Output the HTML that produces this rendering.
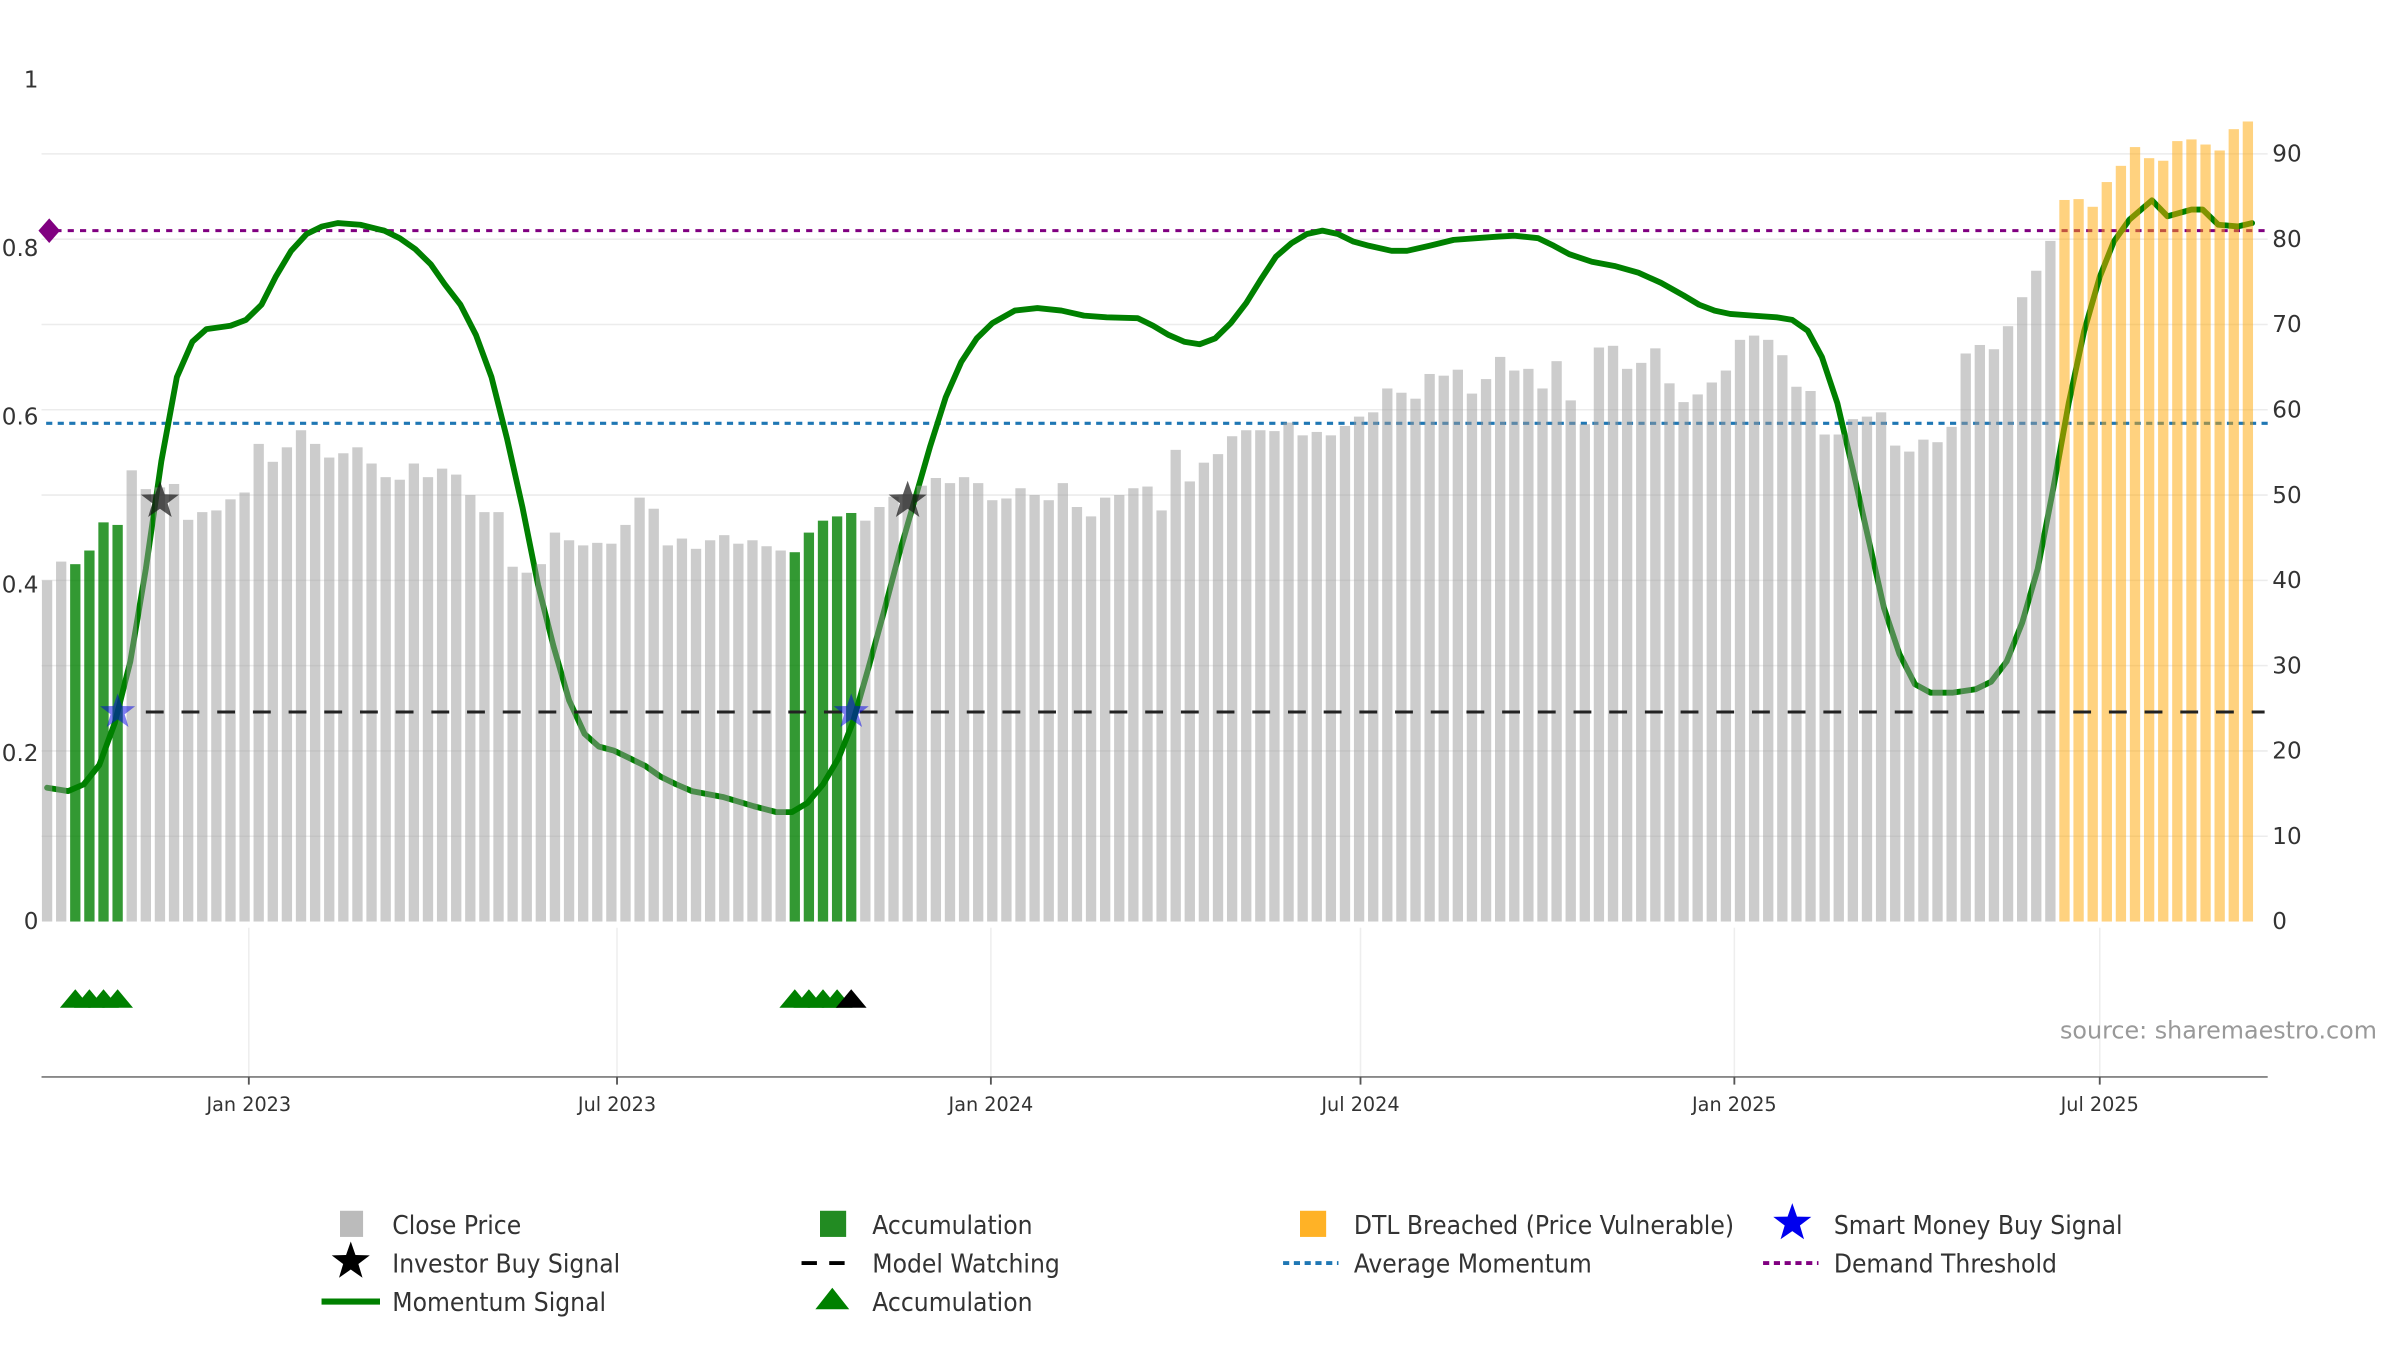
<!DOCTYPE html>
<html><head><meta charset="utf-8"><title>Momentum chart</title>
<style>
html,body{margin:0;padding:0;background:#fff;}
svg{display:block;}
text{font-family:"DejaVu Sans","Liberation Sans",sans-serif;}
.leg{font-family:"DejaVu Sans Condensed","DejaVu Sans","Liberation Sans",sans-serif;font-size:17px;fill:#333;}
</style></head>
<body>
<svg id="chart" width="2400" height="1350" viewBox="0 0 1560 877.5" xmlns="http://www.w3.org/2000/svg">
<g id="grid"></g>
<g id="refl"></g>
<g id="mom"></g>
<g id="bars"></g>
<g id="marks"></g>
<g id="axes"></g>
<text x="1545" y="675" text-anchor="end" font-size="15.5" fill="#999">source: sharemaestro.com</text>
<g id="legend">
  <g><rect x="221" y="787" width="15" height="17" fill="#bbb"/><text class="leg" x="255" y="802">Close Price</text></g>
  <g><rect x="533" y="787" width="17" height="17" fill="#228b22"/><text class="leg" x="567" y="802">Accumulation</text></g>
  <g><rect x="845" y="787" width="17" height="17" fill="#ffa500" opacity="0.85"/><text class="leg" x="880" y="802">DTL Breached (Price Vulnerable)</text></g>
  <g><polygon id="lgstar1" fill="#0000ee"/><text class="leg" x="1192" y="802">Smart Money Buy Signal</text></g>
  <g><polygon id="lgstar2" fill="#000"/><text class="leg" x="255" y="827">Investor Buy Signal</text></g>
  <g><line x1="521" y1="821" x2="557" y2="821" stroke="#000" stroke-width="2.5" stroke-dasharray="10,8"/><text class="leg" x="567" y="827">Model Watching</text></g>
  <g><line x1="834" y1="821" x2="870" y2="821" stroke="#1f77b4" stroke-width="2.5" stroke-dasharray="4,3"/><text class="leg" x="880" y="827">Average Momentum</text></g>
  <g><line x1="1146" y1="821" x2="1182" y2="821" stroke="#800080" stroke-width="2.5" stroke-dasharray="4,3"/><text class="leg" x="1192" y="827">Demand Threshold</text></g>
  <g><line x1="209" y1="846" x2="247" y2="846" stroke="#008000" stroke-width="4"/><text class="leg" x="255" y="852">Momentum Signal</text></g>
  <g><polygon points="530,851 541,837 552,851" fill="#008000"/><text class="leg" x="567" y="852">Accumulation</text></g>
</g>
</svg>
<script>
const prices = [40.0,42.2,41.9,43.5,46.8,46.5,
52.9,50.7,50.9,51.3,47.1,48.0,48.2,49.5,50.3,56.0,53.9,55.6,57.6,56.0,54.4,54.9,55.6,53.7,52.1,51.8,53.7,52.1,53.1,52.4,50.0,48.0,48.0,41.6,40.9,41.9,45.6,44.7,44.1,44.4,44.3,46.5,49.7,48.4,44.1,44.9,43.7,44.7,45.3,44.3,44.7,44.0,43.5,
43.3,45.6,47.0,47.5,47.9,
47.0,48.6,49.8,50.1,51.1,52.0,51.4,52.1,51.4,49.4,49.6,50.8,50.0,49.4,51.4,48.6,47.5,49.7,50.0,50.8,51.0,48.2,55.3,51.6,53.8,54.8,56.9,57.6,57.6,57.5,58.5,57.0,57.4,
57.0,
58.1,59.2,59.7,62.5,62.0,61.3,64.2,64.0,64.7,61.9,63.6,66.2,64.6,64.8,62.5,65.7,61.1,58.3,67.3,67.5,64.8,65.5,67.2,63.1,60.9,61.8,63.2,64.6,68.2,68.7,68.2,66.4,62.7,62.2,57.1,57.1,58.9,59.2,
59.7,55.8,55.1,56.5,56.2,58.0,66.6,67.6,67.1,69.8,73.2,76.3,79.8,
84.6,84.7,83.8,86.7,88.6,90.8,89.5,89.2,91.5,91.7,91.1,90.4,92.9,93.8];
const accumBars = [2,3,4,5,53,54,55,56,57];
const dtlStart = 143;
const momWeek = [0,1.5,2.6,3.7,4.8,5.9,7.0,8.1,9.2,10.3,11.3,13.0,14.1,15.2,16.2,17.3,18.4,19.5,20.6,22.2,23.9,25.0,26.1,27.2,28.2,29.3,30.4,31.5,32.6,33.7,34.8,35.9,37.0,38.1,39.1,40.2,41.3,42.4,43.5,44.6,45.7,47.9,50.1,51.7,52.8,53.9,55.0,56.1,57.1,58.2,59.3,60.4,61.5,62.6,63.7,64.8,65.9,67.0,68.6,70.2,71.9,73.5,75.1,77.3,78.4,79.5,80.6,81.7,82.8,83.9,85.0,86.0,87.1,88.2,89.3,90.4,91.5,92.6,93.7,95.3,96.4,98.0,99.7,101.3,102.9,104.0,105.7,106.8,107.9,109.5,111.1,112.8,114.4,116.0,117.1,118.2,119.3,120.9,122.6,123.7,124.8,125.8,126.9,128.0,129.1,130.2,131.3,132.4,133.5,135.1,136.7,137.8,138.9,140.0,141.1,142.2,143.3,144.4,145.5,146.5,147.6,149.2,150.3,152.0,152.8,153.9,155.3,156.3];
const momVal = [.159,.155,.163,.186,.236,.309,.419,.547,.647,.689,.704,.708,.715,.733,.766,.797,.817,.826,.830,.828,.821,.812,.799,.781,.757,.733,.697,.647,.574,.492,.400,.327,.263,.223,.208,.203,.194,.185,.172,.163,.155,.148,.137,.130,.130,.141,.163,.194,.236,.300,.367,.437,.501,.565,.623,.665,.693,.711,.726,.729,.726,.720,.718,.717,.708,.697,.689,.686,.693,.711,.735,.762,.790,.806,.817,.821,.817,.808,.803,.797,.797,.803,.810,.812,.814,.815,.812,.803,.793,.784,.779,.771,.759,.744,.733,.726,.722,.720,.718,.715,.702,.671,.616,.537,.455,.373,.318,.282,.272,.272,.276,.285,.309,.355,.419,.514,.616,.702,.766,.808,.834,.857,.838,.846,.846,.828,.826,.830];
const demandThreshold = 0.821;
const avgMomentum = 0.592;
const modelWatching = 0.249;
const investorBuy = [8, 61];
const investorBuyVal = [0.50, 0.50];
const smartMoney = [5, 57];
const accumTriGreen = [2,3,4,5,53,54,55,56];
const accumTriBlack = [57];
const leftTicks = [0,0.2,0.4,0.6,0.8,1];
const leftTickLabels = ["0","0.2","0.4","0.6","0.8","1"];
const rightTicks = [0,10,20,30,40,50,60,70,80,90];
const dateWeeks = [14.3,40.4,66.9,93.1,119.6,145.5];
const dateLabels = ["Jan 2023","Jul 2023","Jan 2024","Jul 2024","Jan 2025","Jul 2025"];

const NS="http://www.w3.org/2000/svg";
const X0=30.6, XS=9.17, BW=6.7, Y0=599;
function xW(i){return X0+XS*i;}
function yL(v){return Y0-v*547;}
function yR(p){return Y0-p*5.544;}
function mk(tag,parent,attrs){const e=document.createElementNS(NS,tag);for(const k in attrs)e.setAttribute(k,attrs[k]);parent.appendChild(e);return e;}
function starPts(cx,cy,R){const r=R*0.4;let s=[];for(let k=0;k<10;k++){const a=-Math.PI/2+k*Math.PI/5;const rr=k%2?r:R;s.push((cx+rr*Math.cos(a)).toFixed(2)+","+(cy+rr*Math.sin(a)).toFixed(2));}return s.join(" ");}
const grid=document.getElementById('grid'),refl=document.getElementById('refl'),mom=document.getElementById('mom'),bars=document.getElementById('bars'),marks=document.getElementById('marks'),axes=document.getElementById('axes');

rightTicks.forEach(t=>{if(t===0)return;
 const l=mk('line',grid,{x1:27,x2:1474,y1:yR(t),y2:yR(t),stroke:'#ececec','stroke-width':1});
 
 });
dateWeeks.forEach(w=>{
 const l=mk('line',grid,{x1:xW(w),x2:xW(w),y1:603,y2:700,stroke:'#eeeeee','stroke-width':1});
 
 });

let l1=mk('line',refl,{x1:36,x2:1474,y1:yL(demandThreshold),y2:yL(demandThreshold),stroke:'#800080','stroke-width':2,'stroke-dasharray':'4,4'});


let dm=mk('polygon',refl,{points:`32,${yL(demandThreshold)-8} 39,${yL(demandThreshold)} 32,${yL(demandThreshold)+8} 25,${yL(demandThreshold)}`,fill:'#800080'});


let l2=mk('line',refl,{x1:30,x2:1474,y1:yL(avgMomentum),y2:yL(avgMomentum),stroke:'#1f77b4','stroke-width':2,'stroke-dasharray':'4,3.5'});



let d='';momWeek.forEach((w,k)=>{d+=(k?'L':'M')+xW(w).toFixed(2)+','+yL(momVal[k]).toFixed(2);});
let ml=mk('path',mom,{d:d,fill:'none',stroke:'#008000','stroke-width':3.8,'stroke-linejoin':'round','stroke-linecap':'round'});



prices.forEach((p,i)=>{
 let fill='rgba(153,153,153,0.5)';
 if(accumBars.indexOf(i)>=0) fill='rgba(0,128,0,0.8)';
 else if(i>=dtlStart) fill='rgba(255,165,0,0.5)';
 const r=mk('rect',bars,{x:(xW(i)-BW/2).toFixed(2),y:yR(p).toFixed(2),width:BW,height:(Y0-yR(p)).toFixed(2),fill:fill});
 
 
});

let mw=mk('line',marks,{x1:xW(7),x2:1472,y1:yL(modelWatching),y2:yL(modelWatching),stroke:'#222','stroke-width':2,'stroke-dasharray':'11.6,11.6'});


smartMoney.forEach(i=>{
 const s=mk('polygon',marks,{points:starPts(xW(i),yL(modelWatching),12),fill:'rgba(0,0,230,0.5)'});
 
 });
investorBuy.forEach((i,k)=>{
 const s=mk('polygon',marks,{points:starPts(xW(i),yL(investorBuyVal[k]),13),fill:'rgba(20,20,20,0.7)'});
 
 });
accumTriGreen.forEach(i=>{const x=xW(i);
 const t=mk('polygon',marks,{points:`${x-10},655 ${x},643 ${x+10},655`,fill:'#008000'});
 
 });
accumTriBlack.forEach(i=>{const x=xW(i);
 const t=mk('polygon',marks,{points:`${x-10},655 ${x},643 ${x+10},655`,fill:'#000'});
 
 });

leftTicks.forEach((t,k)=>{
 const tx=mk('text',axes,{x:25,y:yL(t)+5,'text-anchor':'end','font-size':15,fill:'#333'});
 tx.textContent=leftTickLabels[k];
 
 });
rightTicks.forEach(t=>{
 const tx=mk('text',axes,{x:1477,y:yR(t)+5,'font-size':15,fill:'#333'});
 tx.textContent=String(t);
 
 });
let ax=mk('line',axes,{x1:27,x2:1474,y1:700,y2:700,stroke:'#888','stroke-width':1.2});


dateWeeks.forEach((w,k)=>{
 const tk=mk('line',axes,{x1:xW(w),x2:xW(w),y1:700,y2:705,stroke:'#555','stroke-width':1.2});
 
 
 const tx=mk('text',axes,{x:xW(w),y:722,'text-anchor':'middle','font-size':12.5,fill:'#333'});
 tx.textContent=dateLabels[k];
 
 });
document.getElementById('lgstar1').setAttribute('points',starPts(1165,795,13));
document.getElementById('lgstar2').setAttribute('points',starPts(228,820,13));
</script>
</body></html>
